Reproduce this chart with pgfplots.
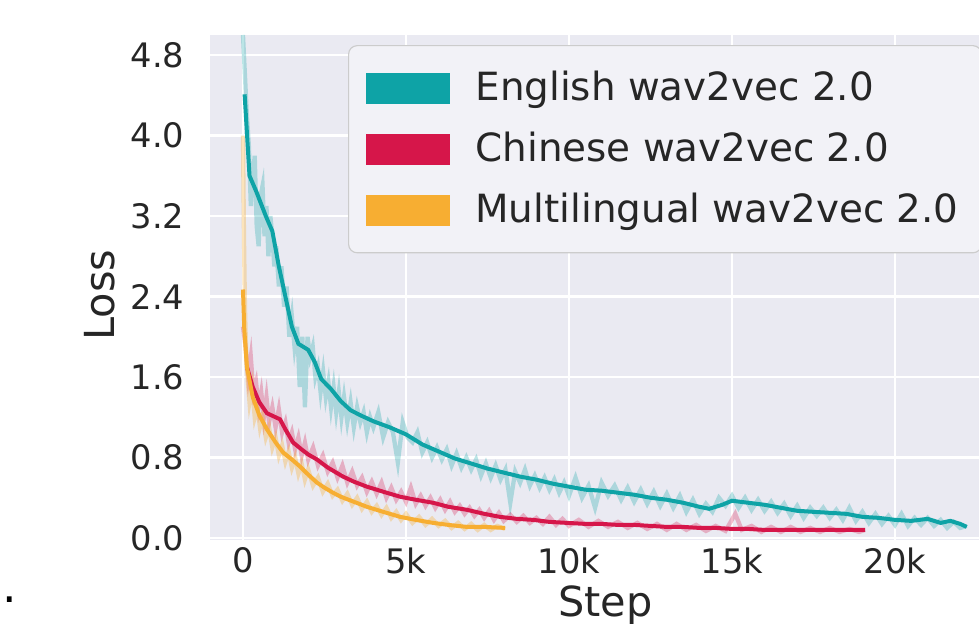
\documentclass[border=0pt]{standalone}
\usepackage{fontspec}
\setmainfont{DejaVu Sans}
\usepackage{pgfplots}
\pgfplotsset{compat=1.18}
\definecolor{bgc}{HTML}{EAEAF2}
\definecolor{eng}{RGB}{14,163,166}
\definecolor{chn}{RGB}{214,22,74}
\definecolor{mul}{RGB}{247,174,50}
\definecolor{txt}{HTML}{262626}
\begin{document}
\begin{tikzpicture}
\useasboundingbox (-73.5pt,-29.4pt) rectangle (269.15pt,189pt);
\begin{axis}[
  at={(0,0)}, anchor=south west,
  scale only axis, width=269.15pt, height=176.75pt,
  xmin=-1012, xmax=22577, ymin=-0.02, ymax=5.0,
  axis background/.style={fill=bgc},
  axis line style={draw=none},
  grid=major, major grid style={white, line width=0.8pt},
  major tick length=0pt, tick style={draw=none},
  scaled x ticks=false,
  xtick={0,5000,10000,15000,20000}, xticklabels={0,5k,10k,15k,20k},
  ytick={0,0.8,1.6,2.4,3.2,4.0,4.8},
  /pgf/number format/assume math mode=true,
  y tick label style={/pgf/number format/fixed, /pgf/number format/fixed zerofill, /pgf/number format/precision=1},
  yticklabel style={inner sep=0pt, xshift=-8.75pt},
  xticklabel style={inner sep=0pt, yshift=-2.5pt},
  ticklabel style={font=\fontsize{11.8}{14}\selectfont, text=txt},
  xlabel={Step}, ylabel={Loss},
  every axis x label/.style={at={(axis description cs:0.514,-0.129)}, anchor=center, font=\fontsize{14.5}{17}\selectfont, text=txt},
  every axis y label/.style={at={(axis description cs:-0.143,0.485)}, anchor=center, rotate=90, font=\fontsize{14.5}{17}\selectfont, text=txt},
  legend style={at={(axis description cs:0.1795,0.980)}, anchor=north west,
    fill=white!40!bgc, draw=black!20, rounded corners=3pt,
    font=\fontsize{13.6}{16}\selectfont, text=txt, inner xsep=6pt, inner ysep=7pt,
    row sep=5.5pt, /tikz/every odd column/.append style={column sep=7pt}},
  legend cell align=left,
  legend image code/.code={\fill[#1, sharp corners] (0pt,-4.7pt) rectangle (28pt,4.7pt);},
]
% ---------- raw (noisy) curves ----------
\addplot[eng, opacity=0.28, line width=1.5pt, forget plot] table {
x y
0 5.0
60 4.6
120 4.2
180 3.9
240 3.3
300 3.6
360 3.8
420 3.1
480 2.9
540 3.4
600 3.5
660 3.0
720 3.3
780 2.8
840 3.2
900 3.0
960 2.7
1020 2.9
1100 2.5
1180 2.7
1260 2.3
1340 2.5
1420 2.0
1500 2.2
1580 1.9
1660 2.1
1740 1.5
1820 2.0
1900 1.3
1980 2.0
2060 1.8
2140 1.9
2220 1.6
2300 1.7
2380 1.45
2460 1.65
2540 1.4
2620 1.55
2700 1.3
2780 1.5
2860 1.25
2940 1.45
3020 1.2
3100 1.4
3200 1.15
3300 1.35
3400 1.1
3500 1.3
3600 1.15
3700 1.25
3800 1.05
3900 1.2
4000 1.1
4150 1.25
4300 1.0
4450 1.15
4600 1.05
4750 0.75
4900 1.15
5050 1.0
5200 0.95
5350 1.05
5500 0.85
5650 0.95
5800 0.8
5950 0.9
6100 0.78
6250 0.88
6400 0.72
6550 0.84
6700 0.7
6850 0.8
7000 0.68
7150 0.78
7300 0.62
7450 0.74
7600 0.6
7750 0.72
7900 0.58
8050 0.68
8200 0.35
8350 0.66
8500 0.55
8650 0.68
8800 0.52
8950 0.62
9100 0.5
9250 0.6
9400 0.48
9550 0.58
9700 0.45
9850 0.55
10000 0.42
10200 0.6
10400 0.4
10600 0.52
10800 0.3
11000 0.55
11200 0.42
11400 0.52
11600 0.38
11800 0.5
12000 0.36
12200 0.48
12400 0.34
12600 0.46
12800 0.32
13000 0.44
13200 0.3
13400 0.42
13600 0.26
13800 0.38
14000 0.24
14200 0.34
14400 0.26
14600 0.4
14800 0.32
15000 0.42
15200 0.3
15400 0.4
15600 0.28
15800 0.38
16000 0.27
16200 0.36
16400 0.25
16600 0.34
16800 0.22
17000 0.32
17200 0.2
17400 0.3
17600 0.22
17800 0.3
18000 0.2
18200 0.28
18400 0.18
18600 0.3
18800 0.17
19000 0.26
19200 0.15
19400 0.24
19600 0.14
19800 0.22
20000 0.13
20200 0.24
20400 0.12
20600 0.2
20800 0.13
21000 0.2
21200 0.12
21400 0.18
21600 0.1
21800 0.16
22000 0.1
22200 0.12
};
\addplot[chn, opacity=0.28, line width=1.5pt, forget plot] table {
x y
0 2.1
80 1.9
160 1.6
240 1.8
320 1.45
400 1.55
480 1.3
560 1.45
640 1.2
720 1.4
800 1.15
900 1.3
1000 1.1
1100 1.28
1200 1.05
1300 1.15
1400 0.95
1500 1.05
1600 0.88
1700 1.0
1800 0.82
1900 0.95
2000 0.78
2150 0.9
2300 0.72
2450 0.82
2600 0.66
2750 0.75
2900 0.6
3050 0.72
3200 0.55
3350 0.66
3500 0.52
3650 0.6
3800 0.46
3950 0.56
4100 0.44
4250 0.55
4400 0.4
4550 0.5
4700 0.38
4850 0.46
5000 0.36
5150 0.5
5300 0.34
5450 0.42
5600 0.32
5750 0.4
5900 0.3
6050 0.38
6200 0.28
6350 0.36
6500 0.26
6650 0.32
6800 0.24
6950 0.3
7100 0.22
7250 0.28
7400 0.2
7550 0.27
7700 0.18
7850 0.25
8000 0.17
8200 0.23
8400 0.16
8600 0.22
8800 0.15
9000 0.2
9200 0.14
9400 0.21
9600 0.13
9800 0.19
10000 0.12
10300 0.18
10600 0.11
10900 0.17
11200 0.11
11500 0.16
11800 0.1
12100 0.15
12400 0.09
12700 0.14
13000 0.08
13300 0.14
13600 0.08
13900 0.13
14200 0.07
14500 0.12
14800 0.07
15100 0.24
15300 0.08
15600 0.12
15900 0.06
16200 0.11
16500 0.06
16800 0.11
17100 0.06
17400 0.1
17700 0.06
18000 0.1
18300 0.06
18600 0.09
18900 0.06
19080 0.08
};
\addplot[mul, opacity=0.33, line width=1.5pt, forget plot] table {
x y
0 4.0
30 3.0
60 2.3
100 1.8
150 1.55
200 1.35
280 1.5
360 1.2
440 1.3
520 1.1
600 1.2
700 1.0
800 1.1
900 0.9
1000 1.0
1100 0.82
1200 0.92
1300 0.76
1400 0.86
1500 0.7
1600 0.8
1700 0.64
1800 0.74
1900 0.58
2000 0.68
2150 0.52
2300 0.6
2450 0.46
2600 0.54
2750 0.42
2900 0.48
3050 0.37
3200 0.44
3350 0.33
3500 0.4
3650 0.29
3800 0.36
3950 0.26
4100 0.32
4250 0.23
4400 0.3
4550 0.2
4700 0.26
4850 0.18
5000 0.24
5200 0.15
5400 0.21
5600 0.13
5800 0.19
6000 0.12
6200 0.17
6400 0.1
6600 0.15
6800 0.09
7000 0.14
7200 0.08
7400 0.13
7600 0.08
7800 0.12
8040 0.09
};
% ---------- smoothed curves ----------
\addplot[color=eng, line width=1.4pt] table {
x y
50 4.41
200 3.6
400 3.45
700 3.2
900 3.05
1100 2.7
1300 2.4
1500 2.1
1700 1.93
2000 1.87
2200 1.75
2400 1.58
2700 1.48
3000 1.36
3300 1.27
3600 1.22
4000 1.16
4500 1.10
5000 1.03
5500 0.93
6000 0.86
6500 0.79
7000 0.74
7500 0.69
8000 0.65
8500 0.61
9000 0.58
9500 0.54
10000 0.51
10500 0.48
11000 0.47
11500 0.45
12000 0.43
12500 0.40
13000 0.38
13500 0.35
14000 0.31
14300 0.29
14700 0.33
15000 0.37
15500 0.35
16000 0.33
16500 0.30
17000 0.27
17500 0.26
18000 0.25
18500 0.24
19000 0.21
19500 0.20
20000 0.18
20500 0.17
21000 0.19
21400 0.15
21700 0.17
22000 0.14
22200 0.11
};
\addlegendentry{English wav2vec 2.0}
\addplot[color=chn, line width=1.4pt] table {
x y
120 1.70
300 1.5
500 1.35
735 1.24
1000 1.2
1135 1.18
1300 1.08
1535 0.95
1800 0.88
2000 0.83
2270 0.78
2600 0.70
3070 0.61
3400 0.56
3800 0.51
4300 0.46
4820 0.41
5300 0.38
5830 0.35
6300 0.31
6870 0.28
7400 0.24
7880 0.21
8400 0.19
8900 0.18
9400 0.16
9940 0.15
10500 0.14
11000 0.14
11500 0.13
12000 0.13
12500 0.12
13000 0.11
13500 0.11
14000 0.10
14500 0.10
15000 0.09
15500 0.09
16000 0.08
16500 0.08
17000 0.08
17500 0.08
18000 0.08
18500 0.08
19080 0.08
};
\addlegendentry{Chinese wav2vec 2.0}
\addplot[color=mul, line width=1.4pt] table {
x y
0 2.47
40 2.07
120 1.70
300 1.40
500 1.22
735 1.08
1000 0.95
1230 0.85
1500 0.78
1750 0.71
2000 0.63
2270 0.55
2500 0.50
2760 0.45
3000 0.41
3400 0.36
3800 0.31
4300 0.26
4820 0.21
5300 0.18
5830 0.15
6300 0.13
6870 0.11
7400 0.11
8040 0.10
};
\addlegendentry{Multilingual wav2vec 2.0}
\end{axis}
\node[font=\fontsize{16}{18}\selectfont, text=black] at (-70pt,-21pt) {.};
\end{tikzpicture}
\end{document}
